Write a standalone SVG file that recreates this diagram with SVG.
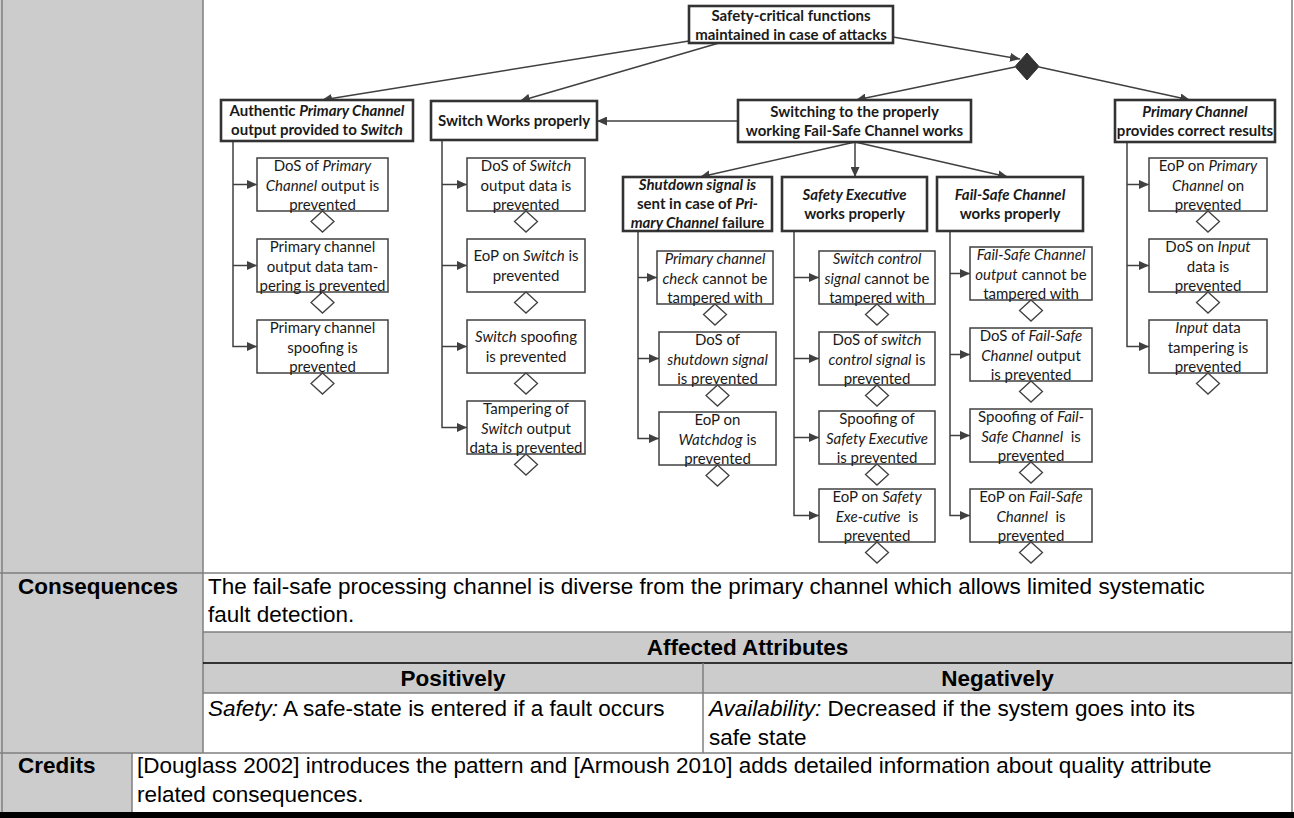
<svg xmlns="http://www.w3.org/2000/svg" width="1294" height="818" viewBox="0 0 1294 818">
  <style>
    .box { fill: #fff; stroke: #404040; stroke-width: 1.5; }
    .pbox { fill: #fff; stroke: #333; stroke-width: 2.6; }
    .dia { fill: #fff; stroke: #404040; stroke-width: 1.3; }
    .con { fill: none; stroke: #404040; stroke-width: 1.5; }
    .arr { marker-end: url(#ah); }
    .t { font-family: Lato, "Open Sans", sans-serif; font-size: 15px; fill: #1a1a1a; text-anchor: middle; }
    .b { font-weight: bold; }
    .i { font-style: italic; }
    .tt { font-family: "Liberation Sans", Arial, sans-serif; font-size: 22.5px; fill: #000; }
    .th { font-weight: bold; text-anchor: middle; }
    .gray { fill: #cccccc; }
    .rule { stroke: #7f7f7f; stroke-width: 1.5; }
  </style>
  <defs>
    <marker id="ah" markerUnits="userSpaceOnUse" markerWidth="11" markerHeight="9" refX="10" refY="4.5" orient="auto">
      <path d="M0,0 L10,4.5 L0,9 z" fill="#404040"/>
    </marker>
  </defs>

  <!-- table frame -->
  <g id="table">
    <rect x="0" y="0" width="1294" height="818" fill="#fff"/>
    <rect class="gray" x="0" y="0" width="203" height="753"/>
    <rect class="gray" x="0" y="753" width="132" height="59"/>
    <rect class="gray" x="203" y="632" width="1089" height="61"/>
    <line class="rule" x1="2" y1="0" x2="2" y2="812" stroke="#404040"/>
    <line class="rule" x1="203" y1="0" x2="203" y2="753"/>
    <line class="rule" x1="1292" y1="0" x2="1292" y2="812"/>
    <line class="rule" x1="0" y1="573" x2="1292" y2="573"/>
    <line class="rule" x1="203" y1="632" x2="1292" y2="632"/>
    <line x1="203" y1="663" x2="1292" y2="663" stroke="#000" stroke-width="1.5"/>
    <line class="rule" x1="203" y1="693" x2="1292" y2="693" stroke="#555"/>
    <line class="rule" x1="703" y1="663" x2="703" y2="753"/>
    <line class="rule" x1="0" y1="753" x2="1292" y2="753" stroke="#555"/>
    <line class="rule" x1="132" y1="753" x2="132" y2="812"/>
    <rect x="0" y="812" width="1294" height="6" fill="#000"/>

    <text class="tt b" x="18" y="594">Consequences</text>
    <text class="tt" x="208" y="594">The fail-safe processing channel is diverse from the primary channel which allows limited systematic</text>
    <text class="tt" x="208" y="622">fault detection.</text>
    <text class="tt th" x="747.5" y="655">Affected Attributes</text>
    <text class="tt th" x="453" y="686">Positively</text>
    <text class="tt th" x="997.5" y="686">Negatively</text>
    <text class="tt" x="208" y="716"><tspan class="i">Safety:</tspan> A safe-state is entered if a fault occurs</text>
    <text class="tt" x="709" y="716"><tspan class="i">Availability:</tspan> Decreased if the system goes into its</text>
    <text class="tt" x="709" y="745">safe state</text>
    <text class="tt b" x="18" y="773">Credits</text>
    <text class="tt" x="137" y="773">[Douglass 2002] introduces the pattern and [Armoush 2010] adds detailed information about quality attribute</text>
    <text class="tt" x="137" y="802">related consequences.</text>
  </g>

  <!-- connectors -->
  <g id="connectors">
    <path class="con arr" d="M689,41 L322,100"/>
    <path class="con arr" d="M719,43 L520,101"/>
    <path class="con arr" d="M893,37 L1020,59"/>
    <path class="con arr" d="M1015,67 L856,100"/>
    <path class="con arr" d="M1039,67 L1190,100"/>
    <path class="con arr" d="M738,121 L597,121"/>
    <path class="con arr" d="M855,142 L700,177"/>
    <path class="con arr" d="M855,142 L855,177"/>
    <path class="con arr" d="M855,142 L1008,177"/>

    <!-- Authentic Primary Channel output -->
    <path class="con arr" d="M233,141 V346.5 H257"/>
    <path class="con arr" d="M233,184.5 H257"/>
    <path class="con arr" d="M233,265.5 H257"/>
    <!-- Switch works properly -->
    <path class="con arr" d="M442,140 V427.5 H467"/>
    <path class="con arr" d="M442,184.5 H467"/>
    <path class="con arr" d="M442,265.5 H467"/>
    <path class="con arr" d="M442,346.5 H467"/>
    <!-- Shutdown signal -->
    <path class="con arr" d="M638,231 V438.5 H659"/>
    <path class="con arr" d="M638,277.5 H657"/>
    <path class="con arr" d="M638,358.5 H659"/>
    <!-- Safety Executive -->
    <path class="con arr" d="M794,231 V515.5 H819"/>
    <path class="con arr" d="M794,277.5 H819"/>
    <path class="con arr" d="M794,358.5 H819"/>
    <path class="con arr" d="M794,437.5 H819"/>
    <!-- Fail-Safe Channel -->
    <path class="con arr" d="M950,231 V515.5 H970"/>
    <path class="con arr" d="M950,273.5 H970"/>
    <path class="con arr" d="M950,354.5 H970"/>
    <path class="con arr" d="M950,435.5 H970"/>
    <!-- Primary Channel correct results -->
    <path class="con arr" d="M1127,142 V346.5 H1149"/>
    <path class="con arr" d="M1127,184.5 H1149"/>
    <path class="con arr" d="M1127,265.5 H1149"/>
  </g>

  <!-- goal nodes -->
  <g id="goal-top">
    <rect class="pbox" x="689" y="6" width="204" height="37"/>
    <text class="t b" x="791" y="20.5">Safety-critical functions</text>
    <text class="t b" x="791" y="39.5">maintained in case of attacks</text>
  </g>
  <g id="and-node">
    <polygon points="1027,53 1039,66.5 1027,80 1015,66.5" fill="#333" stroke="#333" stroke-width="1"/>
  </g>
  <g id="goal-authentic">
    <rect class="pbox" x="221" y="100" width="192" height="41"/>
    <text class="t b" x="317" y="115.5">Authentic <tspan class="i">Primary Channel</tspan></text>
    <text class="t b" x="317" y="135">output provided to <tspan class="i">Switch</tspan></text>
  </g>
  <g id="goal-switch">
    <rect class="pbox" x="431" y="101" width="166" height="39"/>
    <text class="t b" x="514" y="126">Switch Works properly</text>
  </g>
  <g id="goal-switching">
    <rect class="pbox" x="738" y="100" width="233" height="42"/>
    <text class="t b" x="854.5" y="116.5">Switching to the properly</text>
    <text class="t b" x="854.5" y="135.5">working Fail-Safe Channel works</text>
  </g>
  <g id="goal-primary">
    <rect class="pbox" x="1115" y="100" width="160" height="42"/>
    <text class="t b" x="1195" y="116.5"><tspan class="i">Primary Channel</tspan></text>
    <text class="t b" x="1195" y="135.5">provides correct results</text>
  </g>
  <g id="goal-shutdown">
    <rect class="pbox" x="623" y="177" width="149" height="54"/>
    <text class="t b" x="697.5" y="190"><tspan class="i">Shutdown signal is</tspan></text>
    <text class="t b" x="697.5" y="209">sent in case of <tspan class="i">Pri-</tspan></text>
    <text class="t b" x="697.5" y="228"><tspan class="i">mary Channel</tspan> failure</text>
  </g>
  <g id="goal-safety-exec">
    <rect class="pbox" x="782" y="177" width="145" height="54"/>
    <text class="t b" x="854.5" y="200"><tspan class="i">Safety Executive</tspan></text>
    <text class="t b" x="854.5" y="219">works properly</text>
  </g>
  <g id="goal-failsafe">
    <rect class="pbox" x="937" y="177" width="146" height="54"/>
    <text class="t b" x="1010" y="200"><tspan class="i">Fail-Safe Channel</tspan></text>
    <text class="t b" x="1010" y="219">works properly</text>
  </g>

  <!-- leaf nodes: Authentic Primary Channel output -->
  <g id="a1">
    <rect class="box" x="257" y="158" width="131" height="53"/>
    <polygon class="dia" points="322.5,211 334,221.5 322.5,232 311,221.5"/>
    <text class="t" x="322.5" y="171">DoS of <tspan class="i">Primary</tspan></text>
    <text class="t" x="322.5" y="190.5"><tspan class="i">Channel</tspan> output is</text>
    <text class="t" x="322.5" y="210">prevented</text>
  </g>
  <g id="a2">
    <rect class="box" x="257" y="239" width="131" height="53"/>
    <polygon class="dia" points="322.5,292 334,302.5 322.5,313 311,302.5"/>
    <text class="t" x="322.5" y="252">Primary channel</text>
    <text class="t" x="322.5" y="271.5">output data tam-</text>
    <text class="t" x="322.5" y="291">pering is prevented</text>
  </g>
  <g id="a3">
    <rect class="box" x="257" y="320" width="131" height="53"/>
    <polygon class="dia" points="322.5,373 334,383.5 322.5,394 311,383.5"/>
    <text class="t" x="322.5" y="333">Primary channel</text>
    <text class="t" x="322.5" y="352.5">spoofing is</text>
    <text class="t" x="322.5" y="372">prevented</text>
  </g>

  <!-- leaf nodes: Switch works properly -->
  <g id="s1">
    <rect class="box" x="467" y="158" width="118" height="53"/>
    <polygon class="dia" points="526,211 537.5,221.5 526,232 514.5,221.5"/>
    <text class="t" x="526" y="171">DoS of <tspan class="i">Switch</tspan></text>
    <text class="t" x="526" y="190.5">output data is</text>
    <text class="t" x="526" y="210">prevented</text>
  </g>
  <g id="s2">
    <rect class="box" x="467" y="239" width="118" height="53"/>
    <polygon class="dia" points="526,292 537.5,302.5 526,313 514.5,302.5"/>
    <text class="t" x="526" y="261">EoP on <tspan class="i">Switch</tspan> is</text>
    <text class="t" x="526" y="280.5">prevented</text>
  </g>
  <g id="s3">
    <rect class="box" x="467" y="320" width="118" height="53"/>
    <polygon class="dia" points="526,373 537.5,383.5 526,394 514.5,383.5"/>
    <text class="t" x="526" y="342"><tspan class="i">Switch</tspan> spoofing</text>
    <text class="t" x="526" y="361.5">is prevented</text>
  </g>
  <g id="s4">
    <rect class="box" x="467" y="401" width="118" height="53"/>
    <polygon class="dia" points="526,454 537.5,464.5 526,475 514.5,464.5"/>
    <text class="t" x="526" y="414">Tampering of</text>
    <text class="t" x="526" y="433.5"><tspan class="i">Switch</tspan> output</text>
    <text class="t" x="526" y="453">data is prevented</text>
  </g>

  <!-- leaf nodes: Shutdown signal -->
  <g id="d1">
    <rect class="box" x="657" y="251" width="116" height="53"/>
    <polygon class="dia" points="715,304 726.5,314.5 715,325 703.5,314.5"/>
    <text class="t" x="715" y="264"><tspan class="i">Primary channel</tspan></text>
    <text class="t" x="715" y="283.5"><tspan class="i">check</tspan> cannot be</text>
    <text class="t" x="715" y="303">tampered with</text>
  </g>
  <g id="d2">
    <rect class="box" x="659" y="332" width="117" height="53"/>
    <polygon class="dia" points="717.5,385 729,395.5 717.5,406 706,395.5"/>
    <text class="t" x="717.5" y="345">DoS of</text>
    <text class="t" x="717.5" y="364.5"><tspan class="i">shutdown signal</tspan></text>
    <text class="t" x="717.5" y="384">is prevented</text>
  </g>
  <g id="d3">
    <rect class="box" x="659" y="412" width="117" height="53"/>
    <polygon class="dia" points="717.5,465 729,475.5 717.5,486 706,475.5"/>
    <text class="t" x="717.5" y="425">EoP on</text>
    <text class="t" x="717.5" y="444.5"><tspan class="i">Watchdog</tspan> is</text>
    <text class="t" x="717.5" y="464">prevented</text>
  </g>

  <!-- leaf nodes: Safety Executive -->
  <g id="e1">
    <rect class="box" x="819" y="251" width="116" height="53"/>
    <polygon class="dia" points="877,304 888.5,314.5 877,325 865.5,314.5"/>
    <text class="t" x="877" y="264"><tspan class="i">Switch control</tspan></text>
    <text class="t" x="877" y="283.5"><tspan class="i">signal</tspan> cannot be</text>
    <text class="t" x="877" y="303">tampered with</text>
  </g>
  <g id="e2">
    <rect class="box" x="819" y="332" width="116" height="53"/>
    <polygon class="dia" points="877,385 888.5,395.5 877,406 865.5,395.5"/>
    <text class="t" x="877" y="345">DoS of <tspan class="i">switch</tspan></text>
    <text class="t" x="877" y="364.5"><tspan class="i">control signal</tspan> is</text>
    <text class="t" x="877" y="384">prevented</text>
  </g>
  <g id="e3">
    <rect class="box" x="819" y="411" width="116" height="53"/>
    <polygon class="dia" points="877,464 888.5,474.5 877,485 865.5,474.5"/>
    <text class="t" x="877" y="424">Spoofing of</text>
    <text class="t" x="877" y="443.5"><tspan class="i">Safety Executive</tspan></text>
    <text class="t" x="877" y="463">is prevented</text>
  </g>
  <g id="e4">
    <rect class="box" x="819" y="489" width="116" height="53"/>
    <polygon class="dia" points="877,542 888.5,552.5 877,563 865.5,552.5"/>
    <text class="t" x="877" y="502">EoP on <tspan class="i">Safety</tspan></text>
    <text class="t" x="877" y="521.5" xml:space="preserve"><tspan class="i">Exe-cutive</tspan>  is</text>
    <text class="t" x="877" y="541">prevented</text>
  </g>

  <!-- leaf nodes: Fail-Safe Channel -->
  <g id="f1">
    <rect class="box" x="970" y="247" width="122" height="53"/>
    <polygon class="dia" points="1031,300 1042.5,310.5 1031,321 1019.5,310.5"/>
    <text class="t" x="1031" y="260"><tspan class="i">Fail-Safe Channel</tspan></text>
    <text class="t" x="1031" y="279.5"><tspan class="i">output</tspan> cannot be</text>
    <text class="t" x="1031" y="299">tampered with</text>
  </g>
  <g id="f2">
    <rect class="box" x="970" y="328" width="122" height="53"/>
    <polygon class="dia" points="1031,381 1042.5,391.5 1031,402 1019.5,391.5"/>
    <text class="t" x="1031" y="341">DoS of <tspan class="i">Fail-Safe</tspan></text>
    <text class="t" x="1031" y="360.5"><tspan class="i">Channel</tspan> output</text>
    <text class="t" x="1031" y="380">is prevented</text>
  </g>
  <g id="f3">
    <rect class="box" x="970" y="409" width="122" height="53"/>
    <polygon class="dia" points="1031,462 1042.5,472.5 1031,483 1019.5,472.5"/>
    <text class="t" x="1031" y="422">Spoofing of <tspan class="i">Fail-</tspan></text>
    <text class="t" x="1031" y="441.5" xml:space="preserve"><tspan class="i">Safe Channel</tspan>  is</text>
    <text class="t" x="1031" y="461">prevented</text>
  </g>
  <g id="f4">
    <rect class="box" x="970" y="489" width="122" height="53"/>
    <polygon class="dia" points="1031,542 1042.5,552.5 1031,563 1019.5,552.5"/>
    <text class="t" x="1031" y="502">EoP on <tspan class="i">Fail-Safe</tspan></text>
    <text class="t" x="1031" y="521.5" xml:space="preserve"><tspan class="i">Channel</tspan>  is</text>
    <text class="t" x="1031" y="541">prevented</text>
  </g>

  <!-- leaf nodes: Primary Channel correct results -->
  <g id="p1">
    <rect class="box" x="1149" y="158" width="118" height="53"/>
    <polygon class="dia" points="1208,211 1219.5,221.5 1208,232 1196.5,221.5"/>
    <text class="t" x="1208" y="171">EoP on <tspan class="i">Primary</tspan></text>
    <text class="t" x="1208" y="190.5"><tspan class="i">Channel</tspan> on</text>
    <text class="t" x="1208" y="210">prevented</text>
  </g>
  <g id="p2">
    <rect class="box" x="1149" y="239" width="118" height="53"/>
    <polygon class="dia" points="1208,292 1219.5,302.5 1208,313 1196.5,302.5"/>
    <text class="t" x="1208" y="252">DoS on <tspan class="i">Input</tspan></text>
    <text class="t" x="1208" y="271.5">data is</text>
    <text class="t" x="1208" y="291">prevented</text>
  </g>
  <g id="p3">
    <rect class="box" x="1149" y="320" width="118" height="53"/>
    <polygon class="dia" points="1208,373 1219.5,383.5 1208,394 1196.5,383.5"/>
    <text class="t" x="1208" y="333"><tspan class="i">Input</tspan> data</text>
    <text class="t" x="1208" y="352.5">tampering is</text>
    <text class="t" x="1208" y="372">prevented</text>
  </g>
</svg>
